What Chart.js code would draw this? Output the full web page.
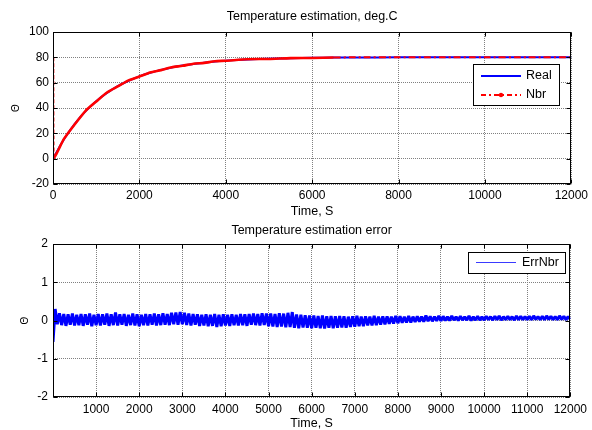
<!DOCTYPE html>
<html><head><meta charset="utf-8">
<script src="https://cdn.jsdelivr.net/npm/chart.js@4.4.1/dist/chart.umd.min.js"></script>
<style>
html,body{margin:0;padding:0;background:#fff;overflow:hidden;width:592px;height:430px;position:relative;}
canvas{position:absolute;left:0;}
#c1{top:0}
#c2{top:222px}
</style></head><body>
<canvas id="c1" width="592" height="222"></canvas>
<canvas id="c2" width="592" height="209"></canvas>
<script>
// ---------- data ----------
const tempTime = [0,250,500,750,1000,1250,1500,1750,2000,2250,2500,2750,3000,3250,3500,3750,4000,4500,5000,5500,6000,6500,7000,8000,9000,10000,11000,12000];
const realTemp = [0,15.1,27.3,37.3,45.4,51.9,57.2,61.5,65.0,67.8,70.1,72.0,73.5,74.8,75.8,76.7,77.4,78.3,78.9,79.3,79.6,79.8,79.9,80,80,80,80,80];
const nbrTime  = [0,8,250,500,750,1000,1250,1500,1750,2000,2250,2500,2750,3000,3250,3500,3750,4000,4500,5000,5500,6000,6500,7000,8000,9000,10000,11000,12000];
const nbrTemp  = [80,0.6,15.4,27.0,37.6,45.1,52.2,57.0,61.8,64.8,68.0,69.9,72.2,73.3,75.0,75.6,76.9,77.3,78.5,78.7,79.4,79.5,79.9,80,80,80,80,80,80];

const errStep = 50; // sampling interval of the error record, s
const errNbr = [
 -0.56,0.30,-0.10,0.19,-0.12,0.17,-0.14,0.16,-0.11,0.18,-0.13,0.15,-0.12,0.17,-0.14,0.16,-0.11,0.18,-0.15,0.15,
 -0.12,0.17,-0.13,0.16,-0.11,0.18,-0.14,0.16,-0.12,0.21,-0.13,0.16,-0.11,0.17,-0.14,0.15,-0.12,0.18,-0.13,0.16,
 -0.15,0.15,-0.12,0.17,-0.13,0.16,-0.11,0.18,-0.13,0.16,-0.12,0.19,-0.11,0.17,-0.12,0.20,-0.10,0.21,-0.11,0.22,
 -0.10,0.20,-0.12,0.18,-0.13,0.17,-0.11,0.16,-0.14,0.15,-0.13,0.16,-0.15,0.15,-0.14,0.17,-0.17,0.15,-0.15,0.16,
 -0.13,0.15,-0.14,0.16,-0.12,0.15,-0.13,0.17,-0.12,0.16,-0.14,0.17,-0.11,0.18,-0.12,0.17,-0.13,0.19,-0.12,0.18,
 -0.15,0.18,-0.16,0.17,-0.17,0.19,-0.16,0.18,-0.18,0.20,-0.17,0.22,-0.19,0.16,-0.20,0.15,-0.18,0.14,-0.19,0.13,
 -0.20,0.13,-0.19,0.12,-0.20,0.13,-0.21,0.11,-0.19,0.12,-0.20,0.11,-0.19,0.12,-0.18,0.11,-0.19,0.10,-0.17,0.11,
 -0.16,0.12,-0.15,0.10,-0.15,0.11,-0.13,0.10,-0.13,0.12,-0.12,0.10,-0.11,0.11,-0.10,0.11,-0.09,0.10,-0.08,0.12,
 -0.07,0.11,-0.06,0.10,-0.05,0.12,-0.05,0.10,-0.04,0.11,-0.03,0.10,-0.03,0.13,-0.02,0.11,-0.02,0.10,-0.01,0.12,
 -0.01,0.11,0.00,0.10,0.00,0.12,0.01,0.10,0.00,0.11,0.01,0.10,0.01,0.12,0.00,0.10,0.01,0.11,0.01,0.10,
 0.01,0.11,0.02,0.10,0.01,0.11,0.02,0.12,0.01,0.10,0.02,0.11,0.02,0.10,0.01,0.12,0.02,0.11,0.02,0.10,
 0.02,0.11,0.02,0.12,0.03,0.10,0.02,0.11,0.02,0.12,0.03,0.11,0.02,0.10,0.02,0.12,0.03,0.11,0.02,0.10,
 0.03
];
const errTime = errNbr.map((_, i) => i * errStep);

const topXTicks = [0,2000,4000,6000,8000,10000,12000];
const topYTicks = [-20,0,20,40,60,80,100];
const botXTicks = [0,1000,2000,3000,4000,5000,6000,7000,8000,9000,10000,11000,12000];
const botYTicks = [-2,-1,0,1,2];

// ---------- styling helpers ----------
const FAM = '"Liberation Sans", Arial, Helvetica, sans-serif';
Chart.defaults.font.family = FAM;
Chart.defaults.color = '#000';

const framePlugin = {
  id: 'frame',
  afterDatasetsDraw(chart) {
    const {ctx, chartArea: a, scales} = chart;
    ctx.save();
    ctx.strokeStyle = '#000';
    ctx.lineWidth = 1;
    const l = Math.round(a.left) + 0.5, t = Math.round(a.top) + 0.5;
    const r = Math.round(a.right) - 0.5, b = Math.round(a.bottom) - 0.5;
    ctx.strokeRect(l, t, r - l, b - t);
    const L = 4;
    ctx.beginPath();
    scales.x.ticks.forEach(tk => {
      const px = Math.round(scales.x.getPixelForValue(tk.value)) + 0.5;
      ctx.moveTo(px, t); ctx.lineTo(px, t + L);
      ctx.moveTo(px, b); ctx.lineTo(px, b - L);
    });
    scales.y.ticks.forEach(tk => {
      const py = Math.round(scales.y.getPixelForValue(tk.value)) + 0.5;
      ctx.moveTo(l, py); ctx.lineTo(l + L, py);
      ctx.moveTo(r, py); ctx.lineTo(r - L, py);
    });
    ctx.stroke();
    ctx.restore();
  },
  afterDraw(chart, args, opts) {
    const lg = opts.legend;
    if (!lg) return;
    const {ctx, chartArea: a} = chart;
    const x0 = Math.round(a.right - lg.right - lg.w), y0 = Math.round(a.top + lg.top);
    ctx.save();
    ctx.fillStyle = '#fff';
    ctx.fillRect(x0, y0, lg.w, lg.h);
    ctx.strokeStyle = '#000';
    ctx.lineWidth = 1;
    ctx.strokeRect(x0 + 0.5, y0 + 0.5, lg.w, lg.h);
    chart.data.datasets.forEach((ds, i) => {
      const st = lg.rows[i];
      const y = y0 + st.y;
      ctx.strokeStyle = st.color;
      ctx.lineWidth = st.width;
      ctx.setLineDash(st.dash || []);
      ctx.beginPath();
      ctx.moveTo(x0 + lg.lineX0, y);
      ctx.lineTo(x0 + lg.lineX1, y);
      ctx.stroke();
      ctx.setLineDash([]);
      if (st.marker) {
        ctx.fillStyle = st.color;
        ctx.beginPath();
        ctx.arc(x0 + (lg.lineX0 + lg.lineX1) / 2, y, 2.2, 0, Math.PI * 2);
        ctx.fill();
      }
      ctx.fillStyle = '#000';
      ctx.font = '12.5px ' + FAM;
      ctx.textBaseline = 'middle';
      ctx.textAlign = 'left';
      ctx.fillText(ds.label, x0 + lg.textX, y);
    });
    ctx.restore();
  }
};

function xy(xs, ys) { return xs.map((x, i) => ({x: x, y: ys[i]})); }
function setTicks(arr) { return s => { s.ticks = arr.map(v => ({value: v})); }; }

const tickFont = {size: 12, family: FAM};
const gridOpts = {color: '#808080', lineWidth: 1, drawTicks: false};
const borderOpts = {display: false, dash: [1, 1]};

// ---------- top chart ----------
new Chart(document.getElementById('c1'), {
  type: 'line',
  data: {
    datasets: [
      {label: 'Real', data: xy(tempTime, realTemp), borderColor: '#0000ff', borderWidth: 2,
       pointRadius: 0, order: 1, tension: 0.2},
      {label: 'Nbr', data: xy(nbrTime, nbrTemp), borderColor: '#ff0000', borderWidth: 2,
       pointRadius: 0, order: 0, tension: 0.2,
       segment: {
         borderDash: c => c.p0.parsed.x < 1 ? [4, 2] : (c.p0.parsed.x >= 6500 ? [7, 3, 2, 3] : undefined),
         borderWidth: c => c.p0.parsed.x >= 6500 ? 2 : 2.6
       }}
    ]
  },
  options: {
    responsive: false, animation: false, events: [],
    layout: {padding: {left: 0, right: 19, top: 0, bottom: 0}},
    plugins: {
      legend: {display: false}, tooltip: {enabled: false},
      title: {display: true, text: 'Temperature estimation, deg.C', fullSize: false, color: '#000',
              font: {size: 12.5, weight: 'normal', family: FAM}, padding: {top: 9.5, bottom: 7.5}},
      frame: {legend: {right: 12, top: 32, w: 86, h: 41, lineX0: 8, lineX1: 48, textX: 53,
        rows: [
          {y: 12, color: '#0000ff', width: 2},
          {y: 31, color: '#ff0000', width: 2, dash: [5, 3, 2, 3], marker: true}
        ]}}
    },
    scales: {
      x: {type: 'linear', min: 0, max: 12000, afterBuildTicks: setTicks(topXTicks),
          ticks: {font: tickFont, color: '#000', padding: 4, maxRotation: 0, autoSkip: false, callback: v => String(v)},
          grid: gridOpts, border: borderOpts,
          title: {display: true, text: 'Time, S', color: '#000', font: {size: 12.5, family: FAM}, padding: {top: 2.5, bottom: 2.5}},
          afterFit: s => { s.height = 38; }},
      y: {type: 'linear', min: -20, max: 100, afterBuildTicks: setTicks(topYTicks),
          ticks: {font: tickFont, color: '#000', padding: 4, autoSkip: false, callback: v => String(v)},
          grid: gridOpts, border: borderOpts,
          title: {display: true, text: 'Θ', color: '#000', font: {size: 10, family: FAM}, padding: {top: 10, bottom: 10}},
          afterFit: s => { s.width = 53; }}
    }
  },
  plugins: [framePlugin]
});

// ---------- bottom chart ----------
new Chart(document.getElementById('c2'), {
  type: 'line',
  data: {
    datasets: [
      {label: 'ErrNbr', data: xy(errTime, errNbr), borderColor: '#0000ff', borderWidth: 3,
       borderJoinStyle: 'bevel', pointRadius: 0}
    ]
  },
  options: {
    responsive: false, animation: false, events: [],
    layout: {padding: {left: 0, right: 19, top: 0, bottom: 0}},
    plugins: {
      legend: {display: false}, tooltip: {enabled: false},
      title: {display: true, text: 'Temperature estimation error', fullSize: false, color: '#000',
              font: {size: 12.5, weight: 'normal', family: FAM}, padding: {top: 1.5, bottom: 5.5}},
      frame: {legend: {right: 5, top: 8, w: 97, h: 21, lineX0: 8, lineX1: 48, textX: 54,
        rows: [{y: 10.5, color: '#3a3aff', width: 1}]}}
    },
    scales: {
      x: {type: 'linear', min: 0, max: 12000, afterBuildTicks: setTicks(botXTicks),
          ticks: {font: tickFont, color: '#000', padding: 5, maxRotation: 0, autoSkip: false, callback: v => v === 0 ? '' : String(v)},
          grid: gridOpts, border: borderOpts,
          title: {display: true, text: 'Time, S', color: '#000', font: {size: 12.5, family: FAM}, padding: {top: 0, bottom: 0}},
          afterFit: s => { s.height = 34; }},
      y: {type: 'linear', min: -2, max: 2, afterBuildTicks: setTicks(botYTicks),
          ticks: {font: tickFont, color: '#000', padding: 5, autoSkip: false, callback: v => String(v)},
          grid: gridOpts, border: borderOpts,
          title: {display: true, text: 'Θ', color: '#000', font: {size: 10, family: FAM}, padding: {top: 19, bottom: 19}},
          afterFit: s => { s.width = 53; }}
    }
  },
  plugins: [framePlugin]
});
</script>
</body></html>
